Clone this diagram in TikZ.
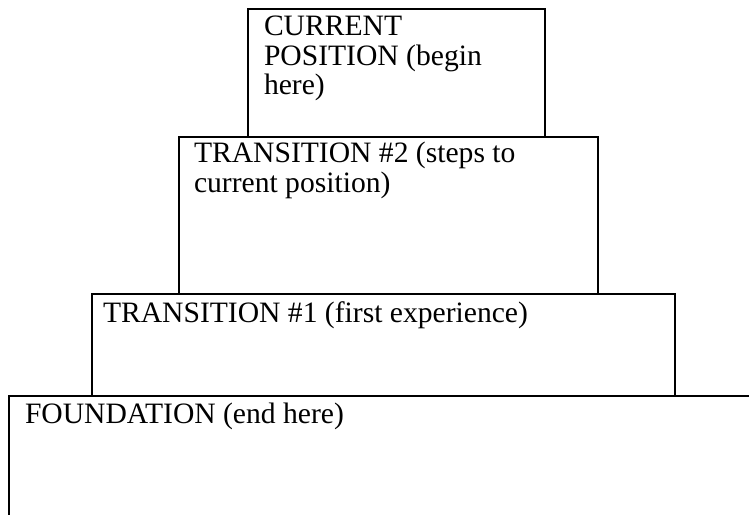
\documentclass[tikz,border=0pt]{standalone}
\usepackage{fontspec}
\setmainfont{Liberation Serif}
\usetikzlibrary{positioning, calc}

\begin{document}
\begin{tikzpicture}[font=\fontsize{29.6}{29.5}\selectfont, line width=2pt]
			\clip (0,0) rectangle (749pt,-514pt);
			\node (n1) [draw, inner sep=0, minimum width=297pt, minimum height=128pt] at (396.5pt,-73pt) {};
			\node (n2) [draw, inner sep=0, minimum width=419pt, minimum height=157pt] at (388.5pt,-215.5pt) {};
			\node (n3) [draw, inner sep=0, minimum width=583pt, minimum height=102pt] at (383.5pt,-345pt) {};
			\node (n4) [draw, inner sep=0, minimum width=791.5pt, minimum height=164pt] at (404.25pt,-478pt) {};
			\node (t1) [anchor=north west, inner sep=0, align=left] at ($(n1.north west)+(16pt,-7pt)$) {CURRENT\\POSITION (begin\\here)};
			\node (t2) [anchor=north west, inner sep=0, align=left] at ($(n2.north west)+(15pt,-5pt)$) {TRANSITION \#2 (steps to\\current position)};
			\node (t3) [anchor=north west, inner sep=0, align=left] at ($(n3.north west)+(11pt,-8pt)$) {TRANSITION \#1 (first experience)};
			\node (t4) [anchor=north west, inner sep=0, align=left] at ($(n4.north west)+(16.5pt,-7pt)$) {FOUNDATION (end here)};
		\end{tikzpicture}
\end{document}
